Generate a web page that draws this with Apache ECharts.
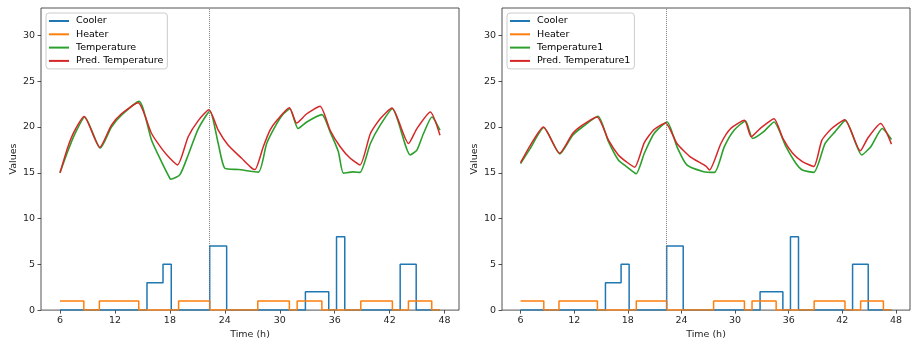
<!DOCTYPE html>
<html>
<head>
<meta charset="utf-8">
<script src="https://cdn.jsdelivr.net/npm/echarts@6/dist/echarts.min.js"></script>
<style>
  html, body { margin: 0; padding: 0; background: #fff; }
  #chart { width: 912px; height: 345px; }
</style>
</head>
<body>
<div id="chart"></div>
<script>
// step signals, shared by both panels (value holds until next change time)
const heaterTimes = [6, 8.6, 10.3, 14.6, 18.95, 22.35, 27.6, 31.05, 31.9, 34.6, 38.85, 42.3, 44.05, 46.6, 47.5]
const heaterValues = [1, 0, 1, 0, 1, 0, 1, 0, 1, 0, 1, 0, 1, 0, 0]
const coolerTimes = [6, 15.5, 17.25, 18.15, 22.35, 24.2, 32.8, 35.35, 36.2, 37.1, 43.15, 44.9, 47.5]
const coolerValues = [0, 3, 5, 0, 7, 0, 2, 0, 8, 0, 5, 0, 0]

const splitTime = 22.35
const xTicks = [6, 12, 18, 24, 30, 36, 42, 48]
const yTicks = [0, 5, 10, 15, 20, 25, 30]

// left panel
const tempLeft = [
  [6, 15.0], [6.87, 17.4], [7.6, 19.2], [8.7, 21.1], [10.4, 17.7], [11.62, 20.0], [12.71, 21.3],
  [14.64, 22.8], [16.0, 18.56], [17.09, 16.2], [18.0, 14.4], [18.1, 14.3], [19.1, 14.8], [20.0, 16.95],
  [21.1, 19.8], [22.37, 21.74], [23.28, 18.2], [24.0, 15.5], [25.5, 15.35], [27.66, 15.07], [28.57, 18.2],
  [29.67, 20.37], [30.4, 21.45], [31.1, 22.0], [32.0, 19.83], [32.95, 20.55], [34.6, 21.35], [35.5, 19.47],
  [36.4, 17.3], [36.95, 14.96], [38.0, 15.1], [38.76, 15.04], [39.9, 18.2], [40.97, 20.2], [42.3, 22.0],
  [44.25, 16.95], [44.98, 17.48], [45.7, 19.29], [46.62, 21.1], [47.5, 19.65]
]
const predLeft = [
  [6, 15.0], [6.87, 17.85], [7.6, 19.6], [8.63, 21.15], [10.34, 17.77], [11.62, 20.2], [12.71, 21.45],
  [14.53, 22.64], [16.0, 19.29], [17.09, 17.67], [18.0, 16.58], [18.84, 15.86], [20.0, 18.93], [21.1, 20.7],
  [22.26, 21.88], [23.28, 19.65], [24.37, 18.0], [25.84, 16.58], [26.75, 15.68], [27.3, 15.35], [28.2, 17.85],
  [28.94, 19.65], [29.67, 20.7], [31.05, 22.1], [31.85, 20.44], [32.95, 21.45], [34.4, 22.28], [35.5, 19.65],
  [36.6, 17.85], [37.7, 16.58], [38.76, 15.86], [39.9, 19.29], [40.97, 20.9], [42.25, 22.07], [44.06, 18.2],
  [44.98, 19.83], [46.44, 21.64], [47.5, 19.1]
]

// right panel
const tempRight = [
  [6, 16.0], [7.09, 17.67], [8.6, 19.94], [10.4, 17.06], [11.83, 19.1], [12.92, 20.0], [14.67, 21.17],
  [15.84, 18.4], [16.94, 16.4], [17.85, 15.68], [18.94, 14.9], [19.85, 17.13], [20.94, 19.29], [22.4, 20.55],
  [23.5, 17.85], [24.6, 15.86], [26.4, 15.15], [27.7, 15.04], [28.8, 17.85], [29.89, 19.65], [31.17, 20.66],
  [31.97, 18.75], [33.17, 19.47], [34.36, 20.55], [35.7, 17.85], [36.8, 16.04], [37.53, 15.3], [38.81, 15.04],
  [40.08, 18.2], [41.18, 19.47], [42.35, 20.73], [44.17, 16.95], [45.19, 17.85], [46.47, 19.83], [47.5, 18.64]
]
const predRight = [
  [6, 16.1], [7.09, 18.0], [8.55, 20.0], [10.37, 17.13], [11.83, 19.29], [12.92, 20.2], [14.56, 21.1],
  [15.84, 18.56], [16.94, 16.95], [17.85, 16.2], [18.76, 15.6], [19.85, 18.3], [20.94, 19.72], [22.22, 20.44],
  [23.5, 18.2], [24.95, 16.77], [26.75, 15.72], [27.14, 15.3], [28.42, 18.2], [29.51, 19.83], [31.05, 20.73],
  [31.81, 18.93], [32.8, 19.83], [34.36, 20.91], [35.35, 18.75], [36.44, 17.13], [37.53, 16.23], [38.81, 15.68],
  [39.72, 18.56], [40.81, 19.83], [42.27, 20.8], [44.02, 17.4], [44.83, 18.75], [46.28, 20.37], [47.5, 18.13]
]

const COLORS = { cooler: '#1f77b4', heater: '#ff7f0e', temp: '#2ca02c', pred: '#d62728' }
const FONT = 'DejaVu Sans'
const TEXT = '#262626'
const FS = 9.5

const zip = (xs, ys) => xs.map((x, i) => [x, ys[i]])

const panels = [
  { left: 41, right: 453, legendLeft: 46, tempName: 'Temperature', predName: 'Pred. Temperature', temp: tempLeft, pred: predLeft },
  { left: 502, right: 2, legendLeft: 507, tempName: 'Temperature1', predName: 'Pred. Temperature1', temp: tempRight, pred: predRight },
]

const chart = echarts.init(document.getElementById('chart'))

const option = {
  animation: false,
  backgroundColor: '#fff',
  textStyle: { fontFamily: FONT },
  grid: panels.map(p => ({
    left: p.left, right: p.right, top: 8, bottom: 32,
    show: true, borderColor: TEXT, borderWidth: 0.8, backgroundColor: 'transparent',
  })),
  legend: panels.map(p => ({
    data: ['Cooler', 'Heater', p.tempName, p.predName],
    orient: 'vertical',
    left: p.legendLeft,
    top: 13,
    padding: [2, 4, 2, 3],
    itemGap: 1.3,
    itemWidth: 20,
    itemHeight: 2,
    icon: 'rect',
    backgroundColor: 'rgba(255,255,255,0.8)',
    borderColor: '#cccccc',
    borderWidth: 1,
    borderRadius: 3,
    selectedMode: false,
    textStyle: { fontSize: FS, color: '#000', fontFamily: FONT, lineHeight: 12, padding: [0, 0, 0, 2] },
  })),
  xAxis: panels.map((p, i) => ({
    type: 'value',
    gridIndex: i,
    min: 3.925,
    max: 49.575,
    name: 'Time (h)',
    nameLocation: 'middle',
    nameGap: 19,
    nameTextStyle: { fontSize: FS, color: TEXT },
    axisLine: { show: false },
    splitLine: { show: false },
    axisTick: { show: true, length: 3.5, lineStyle: { color: TEXT, width: 0.8 }, customValues: xTicks },
    axisLabel: { fontSize: FS, color: TEXT, margin: 5, customValues: xTicks },
  })),
  yAxis: panels.map((p, i) => ({
    type: 'value',
    gridIndex: i,
    min: 0,
    max: 33,
    name: 'Values',
    nameLocation: 'middle',
    nameGap: 22,
    nameTextStyle: { fontSize: FS, color: TEXT },
    axisLine: { show: false },
    splitLine: { show: false },
    axisTick: { show: true, length: 3.5, lineStyle: { color: TEXT, width: 0.8 }, customValues: yTicks },
    axisLabel: { fontSize: FS, color: TEXT, margin: 6, customValues: yTicks },
  })),
  series: panels.flatMap((p, i) => [
    {
      name: 'Cooler', type: 'line', step: 'end', xAxisIndex: i, yAxisIndex: i,
      data: zip(coolerTimes, coolerValues), showSymbol: false, symbol: 'none',
      color: COLORS.cooler, lineStyle: { width: 1.5 },
    },
    {
      name: 'Heater', type: 'line', step: 'end', xAxisIndex: i, yAxisIndex: i,
      data: zip(heaterTimes, heaterValues), showSymbol: false, symbol: 'none',
      color: COLORS.heater, lineStyle: { width: 1.5 },
      markLine: {
        silent: true, symbol: 'none', label: { show: false },
        lineStyle: { type: 'dotted', color: '#808080', width: 1 },
        data: [{ xAxis: splitTime }],
      },
    },
    {
      name: p.tempName, type: 'line', xAxisIndex: i, yAxisIndex: i,
      data: p.temp, showSymbol: false, symbol: 'none', smooth: 0.2,
      color: COLORS.temp, lineStyle: { width: 1.6 },
    },
    {
      name: p.predName, type: 'line', xAxisIndex: i, yAxisIndex: i,
      data: p.pred, showSymbol: false, symbol: 'none', smooth: 0.2,
      color: COLORS.pred, lineStyle: { width: 1.5 },
    },
  ]),
}

chart.setOption(option)
</script>
</body>
</html>
